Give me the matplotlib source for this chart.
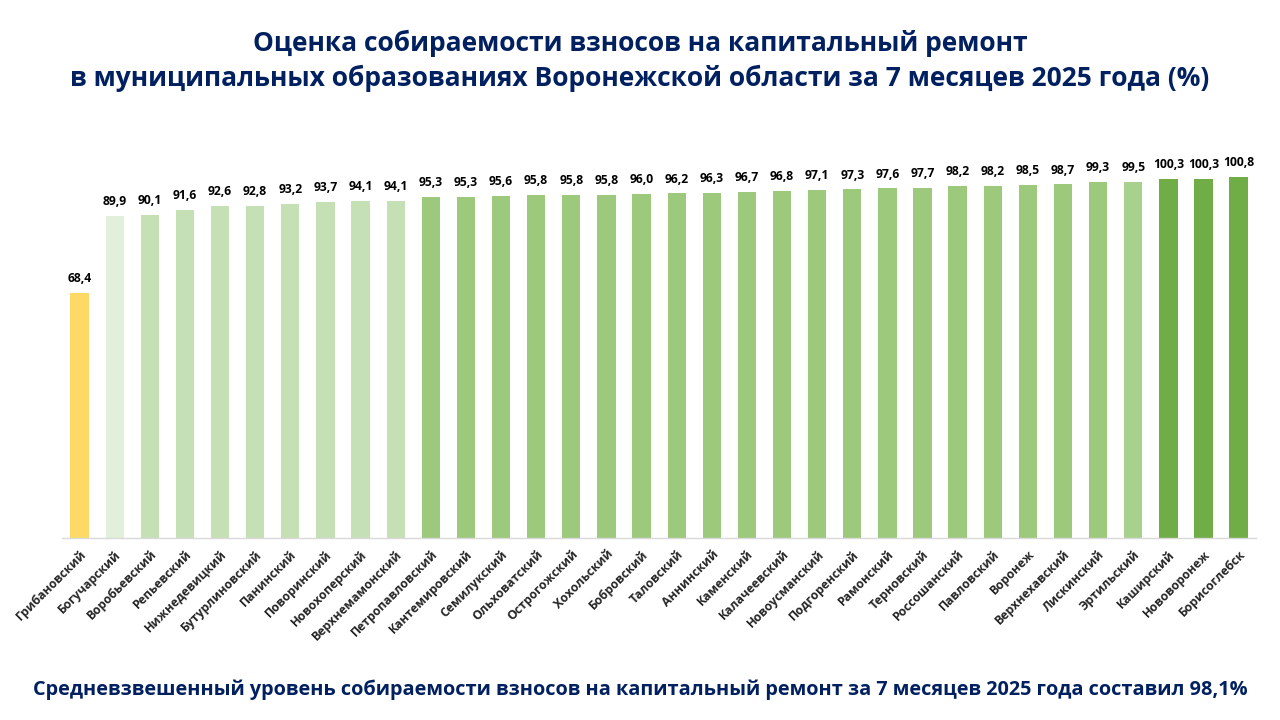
import matplotlib
matplotlib.use('Agg')
import matplotlib.pyplot as plt

plt.rcParams['font.family'] = ['Open Sans', 'DejaVu Sans']

districts = ['Грибановский', 'Богучарский', 'Воробьевский', 'Репьевский', 'Нижнедевицкий',
			 'Бутурлиновский', 'Панинский', 'Поворинский', 'Новохоперский', 'Верхнемамонский',
			 'Петропавловский', 'Кантемировский', 'Семилукский', 'Ольховатский', 'Острогожский',
			 'Хохольский', 'Бобровский', 'Таловский', 'Аннинский', 'Каменский',
			 'Калачеевский', 'Новоусманский', 'Подгоренский', 'Рамонский', 'Терновский',
			 'Россошанский', 'Павловский', 'Воронеж', 'Верхнехавский', 'Лискинский',
			 'Эртильский', 'Каширский', 'Нововоронеж', 'Борисоглебск']
values = [68.4, 89.9, 90.1, 91.6, 92.6,
		  92.8, 93.2, 93.7, 94.1, 94.1,
		  95.3, 95.3, 95.6, 95.8, 95.8,
		  95.8, 96.0, 96.2, 96.3, 96.7,
		  96.8, 97.1, 97.3, 97.6, 97.7,
		  98.2, 98.2, 98.5, 98.7, 99.3,
		  99.5, 100.3, 100.3, 100.8]

title = ('Оценка собираемости взносов на капитальный ремонт\n'
		 'в муниципальных образованиях Воронежской области за 7 месяцев 2025 года (%)')
footnote = 'Средневзвешенный уровень собираемости взносов на капитальный ремонт за 7 месяцев 2025 года составил 98,1%'

NAVY = '#002060'
YELLOW = '#FFD966'
LIGHTEST = '#E2EFDA'
LIGHT = '#C5E0B4'
MEDIUM = '#9DC97D'
MEDIUM_LT = '#A9D18E'
DARK = '#70AD47'

colors = ([YELLOW, LIGHTEST] + [LIGHT] * 8 + [MEDIUM] * 20 + [MEDIUM_LT] + [DARK] * 3)

fig = plt.figure(figsize=(12.8, 7.2), dpi=100)
ax = fig.add_axes([0.0484, 0.2528, 0.933, 0.597])

x = range(len(districts))
bars = ax.bar(x, values, width=0.52, color=colors, zorder=2)

for b, v in zip(bars, values):
	ax.text(b.get_x() + b.get_width() / 2, v + 2.2, ('%.1f' % v).replace('.', ','),
			ha='center', va='bottom', fontsize=8.7, fontweight='bold', color='black')

ax.set_xlim(-0.5, len(districts) - 0.5)
ax.set_ylim(0, 120)
ax.set_xticks(list(x))
ax.set_xticklabels(districts, rotation=45, ha='right', rotation_mode='anchor',
				   fontsize=8.8, fontweight='bold', color='#262626')
ax.tick_params(axis='x', length=0, pad=7)
ax.set_yticks([])
for s in ['top', 'right', 'left']:
	ax.spines[s].set_visible(False)
ax.spines['bottom'].set_color('#D9D9D9')
ax.spines['bottom'].set_linewidth(1)

fig.text(0.5, 0.915, title, ha='center', va='center', fontsize=19, fontweight='bold',
		 color=NAVY, linespacing=1.35)
fig.text(0.5, 0.042, footnote, ha='center', va='center', fontsize=14.3, fontweight='bold',
		 color=NAVY)

fig.savefig('out.png', dpi=100)
